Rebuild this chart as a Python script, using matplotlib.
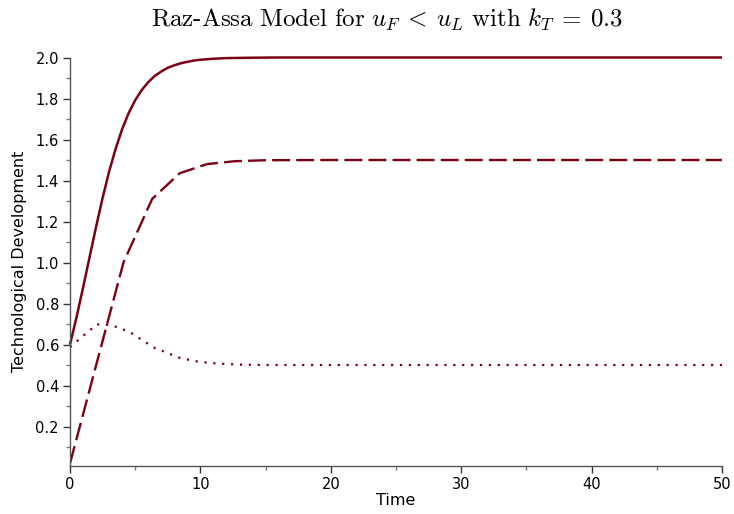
import matplotlib
matplotlib.use("Agg")
import matplotlib.pyplot as plt
from matplotlib.ticker import MultipleLocator

# Data
t_solid = [0, 0.5, 1, 1.5, 2, 2.5, 3, 3.5, 4, 4.5, 5, 5.5, 6, 6.5, 7, 7.5, 8, 8.5,
           9, 9.5, 10, 11, 12, 14, 16, 20, 30, 40, 50]
y_solid = [0.600, 0.733, 0.877, 1.026, 1.174, 1.315, 1.444, 1.555, 1.651, 1.729,
           1.792, 1.841, 1.880, 1.910, 1.932, 1.950, 1.962, 1.972, 1.979, 1.985,
           1.989, 1.994, 1.997, 1.999, 2.0, 2.0, 2.0, 2.0, 2.0]

t_dashed = [0, 4.1, 6.3, 8.4, 10.5, 12.6, 15, 20, 30, 40, 50]
y_dashed = [0.02, 1.0, 1.31, 1.435, 1.48, 1.494, 1.499, 1.5, 1.5, 1.5, 1.5]

t_dotted = [0, 0.5, 1, 1.5, 2, 2.5, 3, 3.5, 4, 4.5, 5, 5.5, 6, 6.5, 7, 7.5, 8, 8.5,
            9, 9.5, 10, 11, 12, 13, 15, 20, 30, 40, 50]
y_dotted = [0.587, 0.614, 0.642, 0.668, 0.697, 0.700, 0.694, 0.687, 0.675, 0.664,
            0.645, 0.623, 0.603, 0.583, 0.571, 0.558, 0.545, 0.533, 0.527, 0.520,
            0.515, 0.509, 0.505, 0.502, 0.500, 0.500, 0.500, 0.500, 0.500]

x_ticks = [0, 10, 20, 30, 40, 50]
y_ticks = [0.2, 0.4, 0.6, 0.8, 1.0, 1.2, 1.4, 1.6, 1.8, 2.0]

color = "#7B0014"

plt.rcParams["mathtext.fontset"] = "cm"
fig = plt.figure(figsize=(7.34, 5.14), dpi=100)
ax = fig.add_axes([70 / 734, 1 - 465.7 / 514, 652 / 734, (465.7 - 57.5) / 514])

ax.plot(t_solid, y_solid, color=color, lw=1.8, solid_capstyle="butt", clip_on=False)
ax.plot(t_dashed, y_dashed, color=color, lw=1.7, dashes=(7.6, 2.6), dash_capstyle="butt")
ax.plot(t_dotted, y_dotted, color=color, lw=1.6, dashes=(1, 3), dash_capstyle="butt")

ax.set_xlim(0, 50)
ax.set_ylim(0.009, 2.0)
ax.set_xticks(x_ticks)
ax.set_yticks(y_ticks)
ax.set_yticklabels([f"{v:.1f}" for v in y_ticks])
ax.xaxis.set_minor_locator(MultipleLocator(5))
ax.yaxis.set_minor_locator(MultipleLocator(0.1))

for s in ["top", "right"]:
    ax.spines[s].set_visible(False)
for s in ["left", "bottom"]:
    ax.spines[s].set_color("#555555")
    ax.spines[s].set_linewidth(1.0)
ax.tick_params(which="major", length=5, width=1, color="#333333", labelsize=10.5, pad=3)
ax.tick_params(which="minor", length=3, width=1, color="#777777")

ax.set_xlabel("Time", fontsize=11.5, labelpad=1)
ax.set_ylabel("Technological Development", fontsize=11.5, labelpad=6)

fig.text(387 / 734, 1 - 20 / 514,
         r"$\mathrm{Raz\text{-}Assa\ Model\ for\ }u_F \:<\: u_L\mathrm{\ with\ }k_T \:=\: 0.3$",
         ha="center", va="center", fontsize=18)

fig.savefig("out.png", dpi=100)
